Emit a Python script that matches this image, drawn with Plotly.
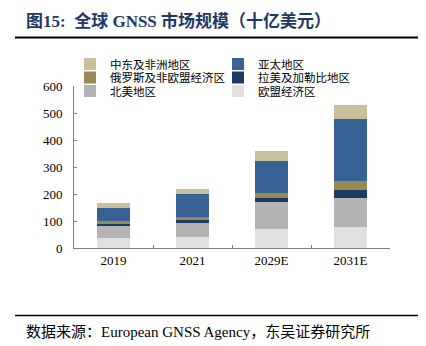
import plotly.graph_objects as go

categories = ["2019", "2021", "2029E", "2031E"]
series_names = ["欧盟经济区", "北美地区", "拉美及加勒比地区", "俄罗斯及非欧盟经济区", "亚太地区", "中东及非洲地区"]
eu = [38, 40, 69, 78]
north_america = [44, 51, 101, 107]
latam = [8, 12, 16, 31]
russia = [9, 11, 16, 31]
asia_pacific = [51, 85, 119, 231]
mideast_africa = [15, 18, 39, 53]
colors = ["#e0e0e0", "#b3b3b3", "#1c3a63", "#978b53", "#386195", "#c8c09a"]
y_ticks = [0, 100, 200, 300, 400, 500, 600]

series_values = [eu, north_america, latam, russia, asia_pacific, mideast_africa]

FONT = "Liberation Serif, 'Noto Sans CJK SC', serif"

W, H = 426, 346
L, R, T, B = 74, 36, 86, 98
pw = W - L - R
ph = H - T - B


def px_x(x):
    return (x - L) / pw


def px_y(y):
    return (H - B - y) / ph


# legend slot (text start x, row centre y) for each series, in trace order
legend_text_x = [258, 110, 258, 110, 258, 110]
legend_row_y = [91, 91, 77.5, 77.5, 64, 64]
legend_ids = ["legend", "legend2", "legend3", "legend4", "legend5", "legend6"]

fig = go.Figure()
for name, vals, col, lid in zip(series_names, series_values, colors, legend_ids):
    fig.add_trace(go.Bar(x=categories, y=vals, name=name, legend=lid,
                         marker=dict(color=col, line=dict(width=0))))

legend_layouts = {}
for lid, tx, ty in zip(legend_ids, legend_text_x, legend_row_y):
    legend_layouts[lid] = dict(
        orientation="v",
        x=px_x(tx - 40), xanchor="left",
        y=px_y(ty), yanchor="middle",
        font=dict(family=FONT, size=11.5, color="#000000"),
        bgcolor="rgba(0,0,0,0)",
        borderwidth=0,
    )

fig.update_layout(
    width=W, height=H,
    margin=dict(l=L, r=R, t=T, b=B, pad=0),
    barmode="stack",
    bargap=0.58,
    plot_bgcolor="white",
    paper_bgcolor="white",
    font=dict(family=FONT, size=13, color="#000000"),
    showlegend=True,
    xaxis=dict(
        type="category",
        showline=True, linecolor="#808080", linewidth=1,
        ticks="inside", tickson="boundaries", ticklen=3, tickcolor="#808080",
        showgrid=False, zeroline=False,
        tickfont=dict(family=FONT, size=13),
    ),
    yaxis=dict(
        range=[0, 600], tickvals=y_ticks,
        showline=True, linecolor="#808080", linewidth=1,
        ticks="inside", ticklen=3, tickcolor="#808080",
        showgrid=False, zeroline=False,
        tickfont=dict(family=FONT, size=13),
        ticklabelstandoff=8,
    ),
    **legend_layouts,
)

fig.add_annotation(
    text="<b>图15:  全球 GNSS 市场规模（十亿美元）</b>",
    xref="paper", yref="paper", x=px_x(24), y=px_y(20.5),
    xanchor="left", yanchor="middle", showarrow=False,
    font=dict(family=FONT, size=17, color="#1f3864"),
)
fig.add_annotation(
    text="数据来源：European GNSS Agency，东吴证券研究所",
    xref="paper", yref="paper", x=px_x(24), y=px_y(332),
    xanchor="left", yanchor="middle", showarrow=False,
    font=dict(family=FONT, size=15, color="#000000"),
)
fig.add_shape(type="line", xref="paper", yref="paper",
              x0=px_x(15), x1=px_x(418), y0=px_y(37.5), y1=px_y(37.5),
              line=dict(color="#000000", width=2))
fig.add_shape(type="line", xref="paper", yref="paper",
              x0=px_x(15), x1=px_x(418), y0=px_y(315.5), y1=px_y(315.5),
              line=dict(color="#000000", width=1.5))

fig.write_html("out.html")
